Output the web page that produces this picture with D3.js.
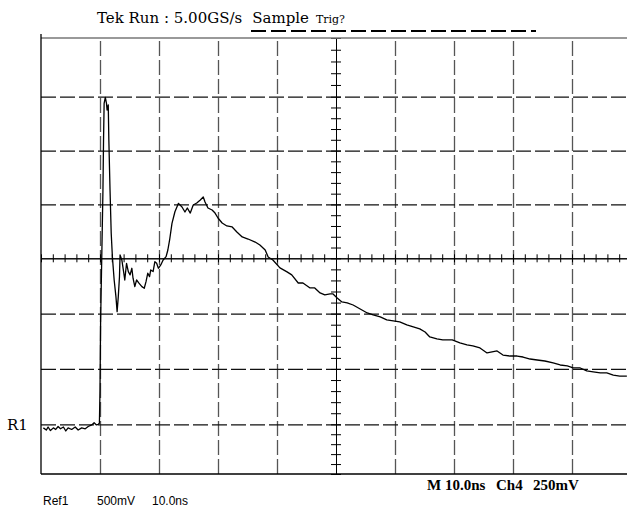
<!DOCTYPE html>
<html>
<head>
<meta charset="utf-8">
<script src="https://cdn.jsdelivr.net/npm/d3@7"></script>
<style>
  html, body { margin: 0; padding: 0; background: #fff; }
  svg { display: block; }
  .grid line { stroke-dasharray: 15,4; }
  .grid path { display: none; }
  .minor path, .minor line { stroke: #000; stroke-width: 1; }
</style>
</head>
<body>
<div id="container"></div>
<script>
var width = 627,
    height = 512;

// trace (Ref1): time in ns from left edge of screen, volts in mV above R1 ground
var timeNs = [0.4, 0.9, 1.2, 1.6, 2.1, 2.5, 2.9, 3.3, 3.8, 4.2, 4.6, 5.2, 5.8, 6.3, 6.9, 7.5, 8.0, 8.6, 9.0, 9.4,
  9.7, 9.9, 10.0, 10.1, 10.3, 10.5, 10.6, 10.7, 10.9, 11.1, 11.2, 11.4, 11.5, 11.7, 11.9, 12.1, 12.4, 12.7, 12.9, 13.1,
  13.3, 13.4, 13.7, 14.0, 14.2, 14.5, 14.8, 15.1, 15.4, 15.6, 15.9, 16.2, 16.6, 17.1, 17.5, 17.8, 18.1, 18.4, 18.6, 19.0,
  19.3, 19.6, 19.9, 20.3, 20.7, 21.2, 21.5, 21.8, 22.2, 22.7, 23.3, 23.9, 24.4, 24.8, 25.3, 25.8, 26.4, 27.0, 27.5, 27.8,
  28.3, 29.0, 29.5, 30.0, 30.7, 31.5, 32.4, 33.2, 34.1, 35.1, 36.3, 37.1, 38.0, 38.5, 39.3, 40.5, 41.7, 42.5, 43.6, 44.4,
  45.6, 46.4, 47.3, 48.1, 49.0, 49.5, 50.2, 51.0, 51.9, 52.9, 54.1, 55.3, 56.3, 57.5, 58.6, 59.7, 60.8, 62.0, 63.1, 64.2,
  65.1, 65.9, 67.1, 68.1, 69.7, 71.0, 72.2, 73.2, 74.4, 75.6, 77.3, 78.3, 79.5, 80.7, 81.7, 82.9, 84.1, 85.4, 86.8, 88.0,
  89.2, 90.2, 91.4, 92.5, 93.6, 94.8, 95.9, 97.0, 98.1, 99.3];
var traceMv = [-36, -58, -27, -63, -36, -52, -22, -45, -27, -67, -36, -52, -27, -58, -36, -45, -22, -6, 14, -6,
  0, 9, 310, 916, 1515, 2134, 2598, 2938, 2994, 2938, 2876, 2923, 2598, 2134, 1732, 1515, 1304, 1154, 1018, 1154,
  1334, 1531, 1485, 1380, 1304, 1455, 1380, 1350, 1410, 1320, 1244, 1304, 1275, 1244, 1229, 1289, 1365, 1334, 1395, 1380,
  1470, 1455, 1410, 1440, 1485, 1515, 1577, 1670, 1825, 1932, 2010, 1976, 1930, 1967, 1920, 1995, 2013, 2041, 2069, 2022,
  1967, 1948, 1920, 1874, 1828, 1800, 1791, 1744, 1698, 1679, 1651, 1623, 1577, 1512, 1485, 1413, 1377, 1350, 1277, 1277,
  1232, 1232, 1187, 1169, 1178, 1178, 1142, 1106, 1097, 1078, 1042, 1006, 988, 970, 943, 934, 925, 898, 880, 862,
  834, 789, 771, 762, 762, 735, 717, 708, 690, 645, 663, 626, 617, 617, 608, 590, 581, 572, 554, 536,
  527, 509, 509, 482, 473, 464, 464, 445, 436, 436];

// graticule: 10 x 10ns across, 8 x 500mV up
var xDivs = [10, 20, 30, 40, 60, 70, 80, 90],
    yDivs = [0, 500, 1000, 2000, 2500, 3000],
    xCenter = 50,
    yCenter = 1500,
    xMinor = d3.range(0, 101, 2),
    yMinor = d3.range(-500, 3501, 100);

var titleMain = "Tek Run : 5.00GS/s",
    titleMode = "Sample",
    titleTrig = "Trig?",
    refLabel = "R1",
    footLeft = ["Ref1", "500mV", "10.0ns"],
    footRight = ["M 10.0ns", "Ch4", "250mV"];

var svg = d3.select("#container")
            .append("svg")
            .attr("width", width)
            .attr("height", height);

var scale_x = d3.scaleLinear()
                .domain([0, 100])
                .range([41, 631]);

// screen was photographed slightly uneven, so y is piecewise
var scale_y = d3.scaleLinear()
                .domain([-500, 0, 1500, 3000, 3500])
                .range([474, 424.3, 258.3, 96.7, 38]);

var top_y = scale_y(3500),
    bot_y = scale_y(-500),
    left_x = scale_x(0);

// dashed vertical grid
svg.append("g")
   .attr("class", "grid")
   .attr("transform", "translate(0," + bot_y + ")")
   .call(d3.axisBottom(scale_x).tickValues(xDivs).tickSize(-(bot_y - top_y)).tickFormat(""))
   .selectAll("line")
   .attr("stroke", "#555")
   .attr("stroke-width", 1.3);

// dashed horizontal grid
svg.append("g")
   .attr("class", "grid")
   .attr("transform", "translate(" + left_x + ",0)")
   .call(d3.axisRight(scale_y).tickValues(yDivs).tickSize(width - left_x + 10).tickFormat(""))
   .selectAll("line")
   .attr("stroke", "#111")
   .attr("stroke-width", 1.2);

// centre cross with minor ticks (top+bottom axes give ticks on both sides)
var cy = scale_y(yCenter), cx = scale_x(xCenter);
[d3.axisTop, d3.axisBottom].forEach(function(ax) {
  svg.append("g")
     .attr("class", "minor")
     .attr("transform", "translate(0," + cy + ")")
     .call(ax(scale_x).tickValues(xMinor).tickSize(4).tickSizeOuter(0).tickFormat(""));
});
[d3.axisLeft, d3.axisRight].forEach(function(ax) {
  svg.append("g")
     .attr("class", "minor")
     .attr("transform", "translate(" + cx + ",0)")
     .call(ax(scale_y).tickValues(yMinor).tickSize(5).tickSizeOuter(0).tickFormat(""));
});

// frame
svg.append("line")
   .attr("x1", left_x).attr("x2", width)
   .attr("y1", top_y).attr("y2", top_y)
   .attr("stroke", "#777").attr("stroke-width", 1.5);
svg.append("line")
   .attr("x1", left_x).attr("x2", width)
   .attr("y1", bot_y).attr("y2", bot_y)
   .attr("stroke", "#000").attr("stroke-width", 1.3);
svg.append("line")
   .attr("x1", left_x).attr("x2", left_x)
   .attr("y1", top_y - 4).attr("y2", bot_y)
   .attr("stroke", "#000").attr("stroke-width", 1.3);

// the waveform
var line_generator = d3.line()
                       .x(function(d, i) { return scale_x(timeNs[i]); })
                       .y(function(d) { return scale_y(d); });

svg.append("path")
   .attr("d", line_generator(traceMv))
   .attr("fill", "none")
   .attr("stroke", "#000")
   .attr("stroke-width", 1.3)
   .attr("stroke-linejoin", "round");

// header
var serif = "'DejaVu Serif', 'Liberation Serif', serif";
var head = svg.append("text")
              .attr("x", 97)
              .attr("y", 23)
              .attr("font-family", serif)
              .attr("font-size", 15)
              .attr("fill", "#000");
head.append("tspan").text(titleMain);
head.append("tspan").attr("dx", 10).text(titleMode);
head.append("tspan").attr("dx", 7).attr("font-size", 11).text(titleTrig);

svg.append("line")
   .attr("x1", 251).attr("x2", 536)
   .attr("y1", 31).attr("y2", 31)
   .attr("stroke", "#000")
   .attr("stroke-width", 2)
   .attr("stroke-dasharray", "15,5");

// R1 ground marker
svg.append("text")
   .attr("x", 7)
   .attr("y", scale_y(0) + 6)
   .attr("font-family", serif)
   .attr("font-size", 15)
   .text(refLabel);

// footer
var leftX = [43, 97, 152];
svg.selectAll(".footl")
   .data(footLeft)
   .enter().append("text")
   .attr("class", "footl")
   .attr("x", function(d, i) { return leftX[i]; })
   .attr("y", 505)
   .attr("font-family", "'Liberation Sans', Arial, sans-serif")
   .attr("font-size", 12)
   .text(function(d) { return d; });

var rightX = [427, 496, 533];
svg.selectAll(".footr")
   .data(footRight)
   .enter().append("text")
   .attr("class", "footr")
   .attr("x", function(d, i) { return rightX[i]; })
   .attr("y", 490)
   .attr("font-family", "'Liberation Serif', serif")
   .attr("font-weight", "bold")
   .attr("font-size", 15)
   .text(function(d) { return d; });
</script>
</body>
</html>
